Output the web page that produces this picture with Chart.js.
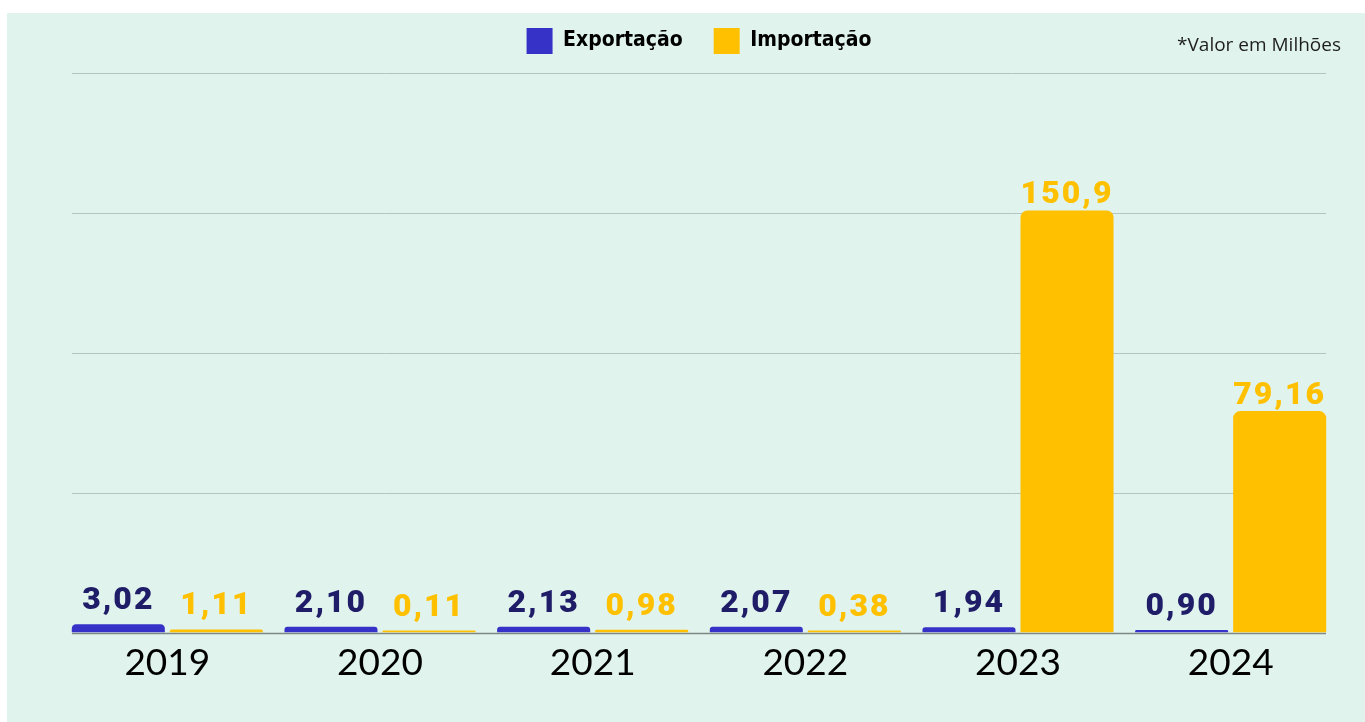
<!DOCTYPE html>
<html>
<head>
<meta charset="utf-8">
<script src="https://cdn.jsdelivr.net/npm/chart.js@4.4.1/dist/chart.umd.min.js"></script>
<style>
  html, body { margin: 0; padding: 0; background: #ffffff; width: 1365px; height: 722px; overflow: hidden; }
  #panel { position: absolute; left: 7px; top: 13px; right: 0; bottom: 0; background: #e0f4ed; }
  #wrap { position: absolute; left: 0; top: 0; width: 1365px; height: 722px; }
  #note { position: absolute; right: 24px; top: 31px; font-family: "Open Sans", sans-serif; font-size: 19px; line-height: 26px; color: #1e1e1e; }
</style>
</head>
<body>
<div id="panel"></div>
<div id="wrap"><canvas id="c" width="1365" height="722"></canvas></div>
<div id="note">*Valor em Milhões</div>
<script>
const categories = ['2019', '2020', '2021', '2022', '2023', '2024'];
const exportacao = [3.02, 2.10, 2.13, 2.07, 1.94, 0.90];
const importacao = [1.11, 0.11, 0.98, 0.38, 150.9, 79.16];
const exportLabels = ['3,02', '2,10', '2,13', '2,07', '1,94', '0,90'];
const importLabels = ['1,11', '0,11', '0,98', '0,38', '150,9', '79,16'];
const gridValues = [0, 50, 100, 150, 200];

const gridPlugin = {
  id: 'gridLines',
  beforeDatasetsDraw(chart) {
    const { ctx, chartArea, scales } = chart;
    const inset = 11;
    ctx.save();
    gridValues.forEach(v => {
      const y = Math.round(scales.y.getPixelForValue(v)) + 0.5;
      ctx.beginPath();
      ctx.strokeStyle = v === 0 ? '#7d8783' : '#b4c5bf';
      ctx.lineWidth = v === 0 ? 1.5 : 1;
      ctx.moveTo(chartArea.left + inset, y);
      ctx.lineTo(chartArea.right - inset, y);
      ctx.stroke();
    });
    ctx.restore();
  }
};

const labelPlugin = {
  id: 'valueLabels',
  afterDatasetsDraw(chart) {
    const { ctx } = chart;
    const sets = [
      { labels: exportLabels, color: '#1f1c68' },
      { labels: importLabels, color: '#ffc000' }
    ];
    ctx.save();
    ctx.font = '900 32px Roboto, sans-serif';
    ctx.letterSpacing = '2px';
    ctx.textAlign = 'center';
    ctx.textBaseline = 'alphabetic';
    chart.data.datasets.forEach((ds, di) => {
      const meta = chart.getDatasetMeta(di);
      meta.data.forEach((bar, i) => {
        const h = bar.base - bar.y;
        const off = h < 20 ? 15 : 7;
        ctx.fillStyle = sets[di].color;
        ctx.fillText(sets[di].labels[i], bar.x, bar.y - off);
      });
    });
    ctx.restore();
  }
};

new Chart(document.getElementById('c'), {
  type: 'bar',
  data: {
    labels: categories,
    datasets: [
      {
        label: 'Exportação',
        data: exportacao,
        backgroundColor: '#3632c8',
        borderRadius: { topLeft: 7, topRight: 7 },
        borderSkipped: 'bottom',
        minBarLength: 2
      },
      {
        label: 'Importação',
        data: importacao,
        backgroundColor: '#ffc000',
        borderRadius: { topLeft: 7, topRight: 7 },
        borderSkipped: 'bottom',
        minBarLength: 2
      }
    ]
  },
  options: {
    responsive: false,
    animation: false,
    devicePixelRatio: 1,
    layout: { padding: { left: 61, right: 28, top: -3, bottom: 37 } },
    datasets: { bar: { categoryPercentage: 0.922, barPercentage: 0.949 } },
    plugins: {
      legend: {
        display: true,
        position: 'top',
        labels: {
          boxWidth: 26,
          boxHeight: 26,
          padding: 31,
          color: '#000000',
          font: { family: '"DejaVu Sans Condensed", "Liberation Sans Narrow", sans-serif', size: 21, weight: 'bold' }
        }
      },
      subtitle: {
        display: true,
        text: '',
        weight: 500,
        font: { size: 5, lineHeight: 1 },
        padding: { top: 0, bottom: 4 }
      },
      tooltip: { enabled: false },
      title: { display: false }
    },
    scales: {
      x: {
        grid: { display: false },
        border: { display: false },
        ticks: {
          color: '#000000',
          padding: 0,
          font: { family: 'Lato, sans-serif', size: 37, weight: 'normal' }
        }
      },
      y: {
        display: false,
        min: 0,
        max: 200,
        ticks: { stepSize: 50 }
      }
    }
  },
  plugins: [gridPlugin, labelPlugin]
});
</script>
</body>
</html>
